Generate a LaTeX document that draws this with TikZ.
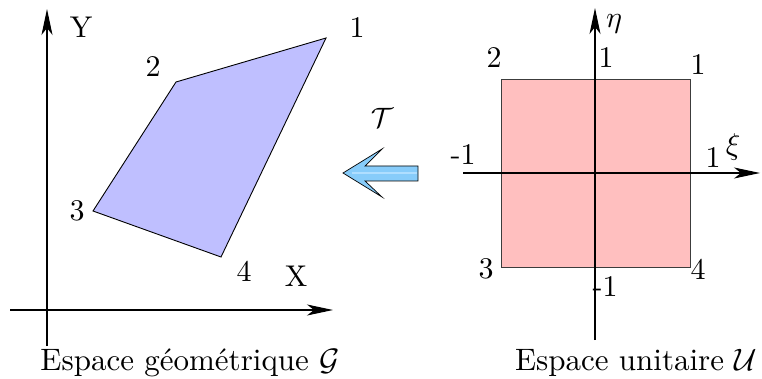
\documentclass[tikz,border=0pt]{standalone}
\usetikzlibrary{arrows.meta}
\definecolor{quadfill}{RGB}{191,191,255}
\definecolor{sqfill}{RGB}{255,191,191}
\definecolor{sqline}{RGB}{60,60,60}
\definecolor{arrfill}{RGB}{135,204,250}
\definecolor{arrlight}{RGB}{175,222,255}
\begin{document}
\begin{tikzpicture}[x=1pt,y=-1pt,
  axis/.style={line width=1.1pt,-{Stealth[length=26pt,width=11pt,inset=7pt]}},
  lab/.style={inner sep=0pt, scale=3.0, transform shape},
  captiontext/.style={inner sep=0pt, anchor=base, scale=3.1, transform shape}]
\useasboundingbox (0,0) rectangle (762,379);
% ---------- left: geometric space
\coordinate (xs) at (10,310); \coordinate (xe) at (333,310);
\coordinate (ys) at (47,346); \coordinate (ye) at (47,9);
\coordinate (q1) at (326,38); \coordinate (q2) at (176,82);
\coordinate (q3) at (93,211); \coordinate (q4) at (221,257);
\draw[fill=quadfill, line width=0.9pt, line join=miter] (q1) -- (q2) -- (q3) -- (q4) -- cycle;
\draw[axis] (xs) -- (xe);
\draw[axis] (ys) -- (ye);
\node[lab] (lY) at (81,27) {Y};
\node[lab] (lX) at (296,276) {X};
\node[lab] (l1) at (357,28) {1};
\node[lab] (l2) at (153,67) {2};
\node[lab] (l3) at (77,211) {3};
\node[lab] (l4) at (244,271) {4};
\node[captiontext] (capG) at (190,370) {Espace géométrique $\mathcal{G}$};
% ---------- transformation arrow
\node[inner sep=0pt, scale=2.8, transform shape] (T) at (382,118) {$\mathcal{T}$};
\fill[arrfill]
  (343,173) -- (382,149) -- (365,166) -- (418,166) -- (418,181) -- (365,181) -- (382,197) -- cycle;
\draw[arrlight, line width=1.2pt] (352,173) -- (417,173);
\draw[line width=0.7pt, line join=miter]
  (343,173) -- (382,149) -- (365,166) -- (418,166) -- (418,181) -- (365,181) -- (382,197) -- cycle;
% ---------- right: unit space
\coordinate (es) at (595,340); \coordinate (ee) at (595,8);
\coordinate (ks) at (463,173); \coordinate (ke) at (760,173);
\draw[fill=sqfill, draw=sqline, line width=0.9pt] (501,79) rectangle (690,267);
\draw[axis] (ks) -- (ke);
\draw[axis] (es) -- (ee);
\node[lab] (eta) at (614,24) {$\eta$};
\node[lab] (xi) at (733,147) {$\xi$};
\node[lab] (r2) at (494,58) {2};
\node[lab] (rt1) at (606,58) {1};
\node[lab] (r1) at (698,65) {1};
\node[lab] (rm1l) at (463,155) {-1};
\node[lab] (rx1) at (713,158) {1};
\node[lab] (r3) at (486,269) {3};
\node[lab] (r4) at (698,269) {4};
\node[lab] (rm1b) at (605,287) {-1};
\node[captiontext] (capU) at (636,370) {Espace unitaire $\mathcal{U}$};
\end{tikzpicture}
\end{document}
